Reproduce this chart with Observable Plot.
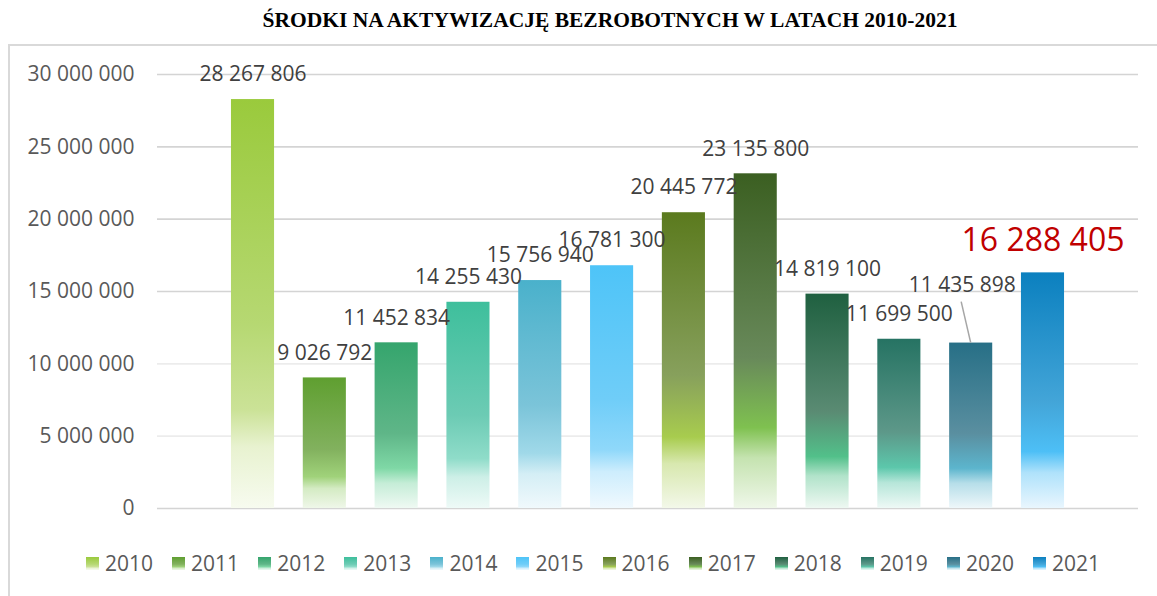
<!DOCTYPE html>
<html>
<head>
<meta charset="utf-8">
<script src="https://cdn.jsdelivr.net/npm/d3@7"></script>
<script src="https://cdn.jsdelivr.net/npm/@observablehq/plot@0.6"></script>
<style>
  html, body { margin: 0; padding: 0; background: #fff; width: 1157px; height: 596px; overflow: hidden; }
  #title { position: absolute; top: 8px; left: 0; width: 1220px; text-align: center;
           font: bold 21.5px "Liberation Serif", "Times New Roman", serif; line-height: 24px; color: #000; }
  #frame { position: absolute; left: 8px; top: 44px; width: 1300px; height: 700px;
           border: 2px solid #d9d9d9; box-sizing: border-box; pointer-events: none; }
  #chart { position: absolute; left: 0; top: 0; }
  #legend { position: absolute; left: 86px; top: 552px; display: flex; font-family: "Open Sans", sans-serif;
            font-size: 21px; color: #595959; line-height: 22px; }
  .item { display: flex; align-items: center; width: 86.1px; }
  .sw { width: 13px; height: 13px; margin-right: 6px; flex: none; }
</style>
</head>
<body>
<div id="title">ŚRODKI NA AKTYWIZACJĘ BEZROBOTNYCH W LATACH 2010-2021</div>
<div id="chart"></div>
<div id="frame"></div>
<div id="legend"></div>
<script>
// ---- data ----
const years = [2010, 2011, 2012, 2013, 2014, 2015, 2016, 2017, 2018, 2019, 2020, 2021];
const values = [28267806, 9026792, 11452834, 14255430, 15756940, 16781300, 20445772, 23135800, 14819100, 11699500, 11435898, 16288405];
const yTicks = [0, 5000000, 10000000, 15000000, 20000000, 25000000, 30000000];

// ---- colours (top, middle, bright, bottom) ----
const topColors    = ["#9aca3c", "#5f9f30", "#35a56d", "#3ebf9c", "#4ab1cb", "#4ec4f8", "#5b7a1e", "#3b5f21", "#1f6040", "#267363", "#276f86", "#0b80bf"];
const midColors    = ["#b6d872", "#82b15e", "#5fb688", "#6ccbb4", "#7bc4d9", "#6fcdf8", "#87a05c", "#68895a", "#5a8b73", "#5d9889", "#5a8fa0", "#43a5d8"];
const brightColors = ["#cbe297", "#a0d27a", "#7fd8a6", "#8fdcc9", "#a0d9e9", "#8fd8fa", "#a8cc4e", "#7fc150", "#52c08a", "#5cc7ab", "#5cb5cd", "#4dbff6"];
const bottomColors = ["#f7fbef", "#eff7e9", "#eff9f3", "#eefaf7", "#f0f9fc", "#f0f9fe", "#f3f8e9", "#eff7e9", "#eef8f2", "#eef9f6", "#eef7fa", "#e9f6fe"];

const data = years.map((year, i) => ({year, value: values[i]}));
const fmt = v => d3.format(",")(v).replace(/,/g, " ");
const light = c => d3.interpolateRgb(c, "#ffffff")(0.55);

const normal = data.filter(d => d.year !== 2020 && d.year !== 2021);
const moved = data.filter(d => d.year === 2020);
const highlight = data.filter(d => d.year === 2021);

const chart = Plot.plot({
  width: 1157,
  height: 530,
  marginTop: 74,
  marginBottom: 22,
  marginLeft: 157,
  marginRight: 19,
  style: {fontFamily: "'Open Sans', sans-serif", background: "transparent", overflow: "visible"},
  x: {domain: years, paddingInner: 0.4, paddingOuter: 0.2, insetLeft: 59.6, insetRight: 59.6, round: false, axis: null},
  y: {domain: [0, 30000000], axis: null},
  marks: [
    Plot.ruleY(yTicks.filter(t => t === 0 || t >= 15000000), {stroke: "#d4d4d4", strokeWidth: 1.6}),
    Plot.ruleY(yTicks.filter(t => t > 0 && t < 15000000), {stroke: "#ececec", strokeWidth: 1.6}),
    Plot.text(yTicks, {y: d => d, frameAnchor: "left", text: d => fmt(d), textAnchor: "end", dx: -23, fontSize: 21, fill: "#595959"}),
    Plot.barY(data, {x: "year", y: "value", fill: "#888888"}),
    Plot.text(normal, {x: "year", y: "value", text: d => fmt(d.value), dy: -25, fontSize: 21, fill: "#404040"}),
    Plot.text(moved, {x: "year", y: "value", text: d => fmt(d.value), dx: -9, dy: -58, fontSize: 21, fill: "#404040"}),
    Plot.text(highlight, {x: "year", y: "value", text: d => fmt(d.value), dy: -32, fontSize: 32, fill: "#c00000"})
  ]
});
document.getElementById("chart").appendChild(chart);

// gradients for bars
const svg = d3.select(chart);
const defs = svg.insert("defs", ":first-child");
const stopsFor = i => [[0, topColors[i]], [0.55, midColors[i]], [0.76, brightColors[i]], [0.85, light(brightColors[i])], [1, bottomColors[i]]];
years.forEach((y, i) => {
  const g = defs.append("linearGradient").attr("id", "g" + y).attr("x1", 0).attr("y1", 0).attr("x2", 0).attr("y2", 1);
  stopsFor(i).forEach(([o, c]) => g.append("stop").attr("offset", o).attr("stop-color", c));
});
svg.selectAll('g[aria-label="bar"] rect').attr("fill", (d, i) => `url(#g${years[i]})`);

// leader line for the moved 2020 label
const xs = chart.scale("x"), ys = chart.scale("y");
const cx = xs.apply(2020) + xs.bandwidth / 2;
const cy = ys.apply(values[years.indexOf(2020)]);
svg.append("line").attr("x1", cx - 9.5).attr("y1", cy - 41).attr("x2", cx).attr("y2", cy)
  .attr("stroke", "#a6a6a6").attr("stroke-width", 1.5);

// legend
const legend = d3.select("#legend");
years.forEach((y, i) => {
  const it = legend.append("div").attr("class", "item");
  it.append("div").attr("class", "sw")
    .style("background", "linear-gradient(to bottom, " + stopsFor(i).map(([o, c]) => `${c} ${o * 100}%`).join(", ") + ")");
  it.append("span").text(y);
});
</script>
</body>
</html>
